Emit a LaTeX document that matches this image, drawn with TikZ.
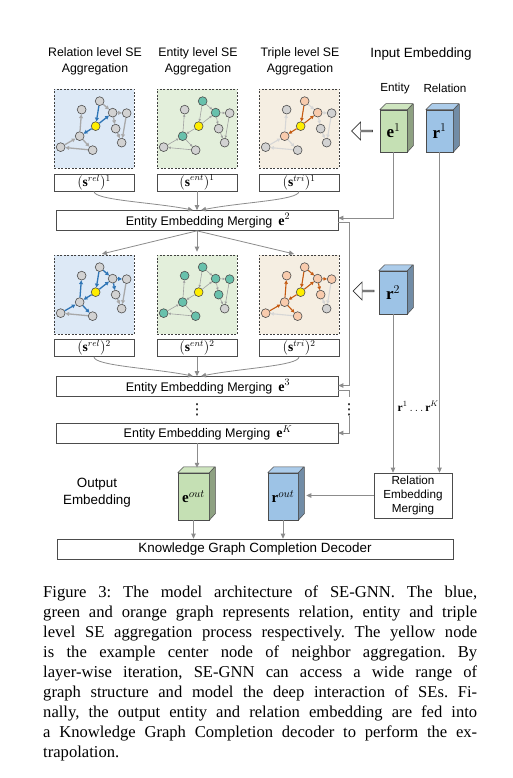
\documentclass[tikz,border=0pt]{standalone}
\usepackage{fontspec}
\setmainfont{Liberation Serif}
\setsansfont{Liberation Sans}
\newfontfamily\symfont{DejaVu Sans}
\usepackage{amsmath,amssymb}
\usepackage{tikz}
\usetikzlibrary{calc, arrows.meta, shapes.arrows}

\definecolor{relbg}{RGB}{221,233,246}
\definecolor{entbg}{RGB}{227,239,219}
\definecolor{tribg}{RGB}{245,238,226}
\definecolor{relblue}{RGB}{46,117,182}
\definecolor{relgray}{RGB}{168,168,168}
\definecolor{entgray}{RGB}{160,160,160}
\definecolor{trigray}{RGB}{214,214,214}
\definecolor{triorange}{RGB}{197,90,17}
\definecolor{nodegray}{RGB}{210,210,210}
\definecolor{entteal}{RGB}{104,193,172}
\definecolor{orangenode}{RGB}{248,203,173}
\definecolor{hubyellow}{RGB}{255,238,0}
\definecolor{ecube}{RGB}{197,224,180}
\definecolor{rcube}{RGB}{157,195,230}
\definecolor{linegray}{RGB}{140,140,140}

\tikzset{
	gnode/.style={circle, draw=black!70, line width=0.6pt, fill=nodegray, inner sep=0pt, minimum size=8.8pt},
	gedge/.style={-{Triangle[length=1.2pt 2,width=1.2pt 2]}},
	panel/.style={draw=black!75, dash pattern=on 2pt off 1.5pt, line width=0.7pt, minimum width=80pt, minimum height=79pt, inner sep=0pt},
	sbox/.style={draw=black!70, line width=0.7pt, minimum width=80pt, minimum height=17pt, inner sep=0pt, font=\fontsize{13.5}{15}\selectfont},
	mbox/.style={draw=black!70, line width=0.7pt, minimum width=282pt, minimum height=20pt, inner sep=0pt, font=\sffamily\fontsize{12.5}{14}\selectfont},
	hdr/.style={align=center, inner sep=0pt, font=\sffamily\fontsize{12.3}{15.5}\selectfont},
	cube/.style={draw=black!70, line width=0.5pt, inner sep=0pt, font=\fontsize{17}{19}\selectfont},
	harrow/.style={single arrow, draw=black!80, fill=white, line width=0.6pt, shape border rotate=180, minimum height=21pt, minimum width=18pt, single arrow head extend=3.5pt, single arrow head indent=0pt, inner sep=0pt},
	conn/.style={draw=linegray, line width=0.8pt},
	vdot/.style={inner sep=0pt, font=\symfont\fontsize{15}{16}\selectfont},
}

\newcommand{\segraph}[7]{%
	\begin{scope}[shift={(#1.north west)}]
		\node[gnode, fill=#6] (#1-A) at (28,21) {};
		\node[gnode, fill=#5] (#1-B) at (46,12.5) {};
		\node[gnode, fill=#5] (#1-C) at (59,24) {};
		\node[gnode, fill=#6] (#1-D) at (73,24.5) {};
		\node[gnode, fill=hubyellow] (#1-Y) at (42,37.5) {};
		\node[gnode, fill=#6] (#1-E) at (62,40) {};
		\node[gnode, fill=#5] (#1-F) at (26,47.5) {};
		\node[gnode] (#1-G) at (68,54) {};
		\node[gnode, fill=#6] (#1-H) at (7,58.5) {};
		\node[gnode, fill=#6] (#1-I) at (39,61.5) {};
		\draw[gedge, color=#4, line width=#7] (#1-I) -- (#1-H);
		\draw[gedge, color=#4, line width=#7] (#1-D) -- (#1-G);
		\draw[gedge, color=#4, line width=#7] (#1-E) -- (#1-G);
		\draw[gedge, color=#3, line width=#7] (#1-F) -- (#1-A);
		\draw[gedge, color=#3, line width=#7] (#1-B) -- (#1-C);
		\draw[gedge, color=#3, line width=#7] (#1-C) -- (#1-D);
		\draw[gedge, color=#3, line width=#7] (#1-C) -- (#1-E);
		\draw[gedge, color=#3, line width=#7] (#1-F) -- (#1-I);
		\draw[gedge, color=#3, line width=#7] (#1-H) -- (#1-F);
		\draw[gedge, color=#2, line width=#7] (#1-B) -- (#1-Y);
		\draw[gedge, color=#2, line width=#7] (#1-Y) -- (#1-C);
		\draw[gedge, color=#2, line width=#7] (#1-Y) -- (#1-F);
	\end{scope}}

\newcommand{\embcube}[6]{%
	\node[cube, fill=#5, minimum width=#3pt, minimum height=#4pt] (#1) at (#2) {#6};
	\draw[fill=#5!72!black, draw=black!70, line width=0.5pt, line join=round] (#1.north east) -- ++(6,-6) -- ++(0,#4) -- (#1.south east) -- cycle;
	\draw[fill=#5!85!white, draw=black!70, line width=0.5pt, line join=round] (#1.north west) -- ++(6,-6) -- ++(#3,0) -- (#1.north east) -- cycle;}

\begin{document}
\begin{tikzpicture}[x=1pt, y=-1pt, >={Triangle[length=5pt,width=4.5pt]}]
	\path[use as bounding box, fill=white] (0,0) rectangle (512,778);

	\node[hdr] (hrel) at (95,61.5) {Relation level SE\\Aggregation};
	\node[hdr] (hent) at (198,61.5) {Entity level SE\\Aggregation};
	\node[hdr] (htri) at (300,61.5) {Triple level SE\\Aggregation};
	\node[hdr, font=\sffamily\fontsize{13.4}{15}\selectfont] (hin) at (421,54) {Input Embedding};
	\node[hdr, font=\sffamily\fontsize{11.7}{14}\selectfont] (hinent) at (395,88) {Entity};
	\node[hdr, font=\sffamily\fontsize{11.7}{14}\selectfont] (hinrel) at (445,88) {Relation};

	\node[panel, fill=relbg] (rel1) at (94,128.5) {};
	\node[panel, fill=entbg] (ent1) at (197,128.5) {};
	\node[panel, fill=tribg] (tri1) at (299,128.5) {};
	\node[panel, fill=relbg] (rel2) at (94,294.5) {};
	\node[panel, fill=entbg] (ent2) at (197,294.5) {};
	\node[panel, fill=tribg] (tri2) at (299,294.5) {};

	\segraph{rel1}{relblue}{relgray}{relgray}{nodegray}{nodegray}{1.3pt}
	\segraph{ent1}{entgray}{entgray}{entgray}{entteal}{nodegray}{0.6pt}
	\segraph{tri1}{triorange}{trigray}{trigray}{orangenode}{nodegray}{1.1pt}
	\segraph{rel2}{relblue}{relblue}{relgray}{nodegray}{nodegray}{1.3pt}
	\segraph{ent2}{entgray}{entgray}{entgray}{entteal}{entteal}{0.6pt}
	\segraph{tri2}{triorange}{triorange}{trigray}{orangenode}{orangenode}{1.1pt}

	\node[sbox] (srel1) at (94,182.5) {$(\mathbf{s}^{rel})^1$};
	\node[sbox] (sent1) at (197,182.5) {$(\mathbf{s}^{ent})^1$};
	\node[sbox] (stri1) at (299,182.5) {$(\mathbf{s}^{tri})^1$};
	\node[sbox] (srel2) at (94,348) {$(\mathbf{s}^{rel})^2$};
	\node[sbox] (sent2) at (197,348) {$(\mathbf{s}^{ent})^2$};
	\node[sbox] (stri2) at (299,348) {$(\mathbf{s}^{tri})^2$};

	\node[mbox] (m2) at (197,220.5) {\hspace*{22pt}Entity Embedding Merging\hspace{6pt}{\fontsize{14}{15}\selectfont$\mathbf{e}^2$}};
	\node[mbox] (m3) at (197,386.5) {\hspace*{22pt}Entity Embedding Merging\hspace{6pt}{\fontsize{14}{15}\selectfont$\mathbf{e}^3$}};
	\node[mbox] (mK) at (197,433) {\hspace*{22pt}Entity Embedding Merging\hspace{6pt}{\fontsize{14}{15}\selectfont$\mathbf{e}^K$}};
	\node[vdot] (vd1) at (197,410) {⋮};
	\node[vdot] (vd2) at (349,410) {⋮};

	\embcube{e1}{393.5,131}{27}{42}{ecube}{$\mathbf{e}^1$}
	\embcube{r1}{439.5,131}{27}{42}{rcube}{$\mathbf{r}^1$}
	\embcube{r2}{393,292.5}{28}{43}{rcube}{$\mathbf{r}^2$}
	\embcube{eout}{193.5,496.5}{31}{47}{ecube}{\fontsize{15}{16}\selectfont$\mathbf{e}^{out}$}
	\embcube{rout}{283,496.5}{30}{47}{rcube}{\fontsize{15}{16}\selectfont$\mathbf{r}^{out}$}

	\node[harrow] (ha1) at (362.5,131) {};
	\node[harrow] (ha2) at (364,291) {};

	\node[hdr, draw=black!70, line width=0.7pt, minimum width=78pt, minimum height=45pt, font=\sffamily\fontsize{11.7}{14}\selectfont] (rem) at (413,495.5) {Relation\\Embedding\\Merging};
	\node[hdr, font=\sffamily\fontsize{13.4}{16.5}\selectfont] (outemb) at (97,492.5) {Output\\Embedding};
	\node[mbox, minimum width=396pt, font=\sffamily\fontsize{13.4}{15}\selectfont] (kgc) at (255,549) {Knowledge Graph Completion Decoder};

	\draw[conn,->] (srel1.south) .. controls +(0,9) and +(-40,-8) .. ([xshift=-4pt]m2.north);
	\draw[conn,->] (sent1.south) -- (m2.north);
	\draw[conn,->] (stri1.south) .. controls +(0,9) and +(40,-8) .. ([xshift=4pt]m2.north);
	\draw[conn,->] (srel2.south) .. controls +(0,9) and +(-40,-8) .. ([xshift=-4pt]m3.north);
	\draw[conn,->] (sent2.south) -- (m3.north);
	\draw[conn,->] (stri2.south) .. controls +(0,9) and +(40,-8) .. ([xshift=4pt]m3.north);

	\draw[conn,->,shorten >=3pt] (m2.south) -- ([xshift=5pt]rel2.north);
	\draw[conn,->,shorten >=3pt] (m2.south) -- (ent2.north);
	\draw[conn,->,shorten >=3pt] (m2.south) -- ([xshift=-2pt]tri2.north);

	\draw[conn,->] (e1.south) |- ([yshift=2.5pt]m2.east);
	\draw[conn,->] ([yshift=-2pt]m2.east) -- ++(11,0) |- ([yshift=1pt]m3.east);
	\draw[conn] ([yshift=-4pt]m3.east) -- ++(11,0) -- ++(0,6);
	\draw[conn,->] (vd2.south) |- (mK.east);

	\draw[conn,->] (r1.south) -- (r1.south |- rem.north);
	\draw[conn,->] (r2.south) -- (r2.south |- rem.north) node[pos=0.58, right=1pt, text=black, font=\fontsize{11.5}{13}\selectfont] {$\mathbf{r}^1\ldots\mathbf{r}^K$};

	\coordinate (etop) at ([yshift=5pt]eout.north);
	\coordinate (rside) at ([xshift=8pt]rout.east);
	\draw[conn,->] (mK.south) -- (mK.south |- etop);
	\draw[conn,->] (rem.west) -- (rem.west -| rside);
	\draw[conn,->] (eout.south) -- (eout.south |- kgc.north);
	\draw[conn,->] (rout.south) -- (rout.south |- kgc.north);

	\node[anchor=north west, inner sep=0pt, text width=434pt, align=justify, font=\rmfamily\fontsize{16.6}{20}\selectfont\frenchspacing] (cap) at (43,586) {Figure 3: The model architecture of SE-GNN. The blue,\linebreak green and orange graph represents relation, entity and triple\linebreak level SE aggregation process respectively. The yellow node\linebreak is the example center node of neighbor aggregation. By\linebreak layer-wise iteration, SE-GNN can access a wide range of\linebreak graph structure and model the deep interaction of SEs. Fi-\linebreak nally, the output entity and relation embedding are fed into\linebreak a Knowledge Graph Completion decoder to perform the ex-\linebreak trapolation.};
\end{tikzpicture}
\end{document}
